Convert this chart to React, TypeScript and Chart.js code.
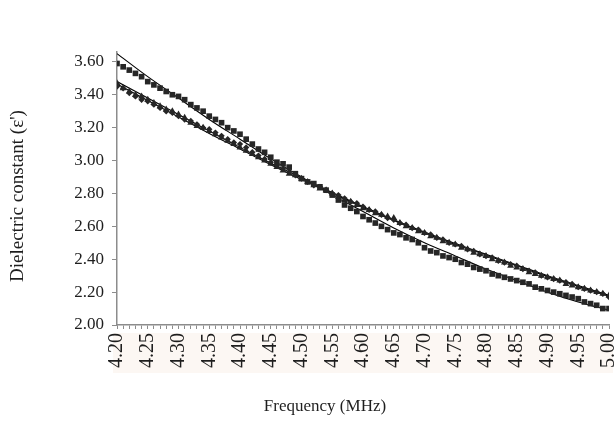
import React, { useEffect, useRef } from "react";
import { Chart, registerables } from "chart.js";

Chart.register(...registerables);

const frequency: number[] = [
  4.2, 4.21, 4.22, 4.23, 4.24, 4.25, 4.26, 4.27, 4.28, 4.29,
  4.3, 4.31, 4.32, 4.33, 4.34, 4.35, 4.36, 4.37, 4.38, 4.39,
  4.4, 4.41, 4.42, 4.43, 4.44, 4.45, 4.46, 4.47, 4.48, 4.49,
  4.5, 4.51, 4.52, 4.53, 4.54, 4.55, 4.56, 4.57, 4.58, 4.59,
  4.6, 4.61, 4.62, 4.63, 4.64, 4.65, 4.66, 4.67, 4.68, 4.69,
  4.7, 4.71, 4.72, 4.73, 4.74, 4.75, 4.76, 4.77, 4.78, 4.79,
  4.8, 4.81, 4.82, 4.83, 4.84, 4.85, 4.86, 4.87, 4.88, 4.89,
  4.9, 4.91, 4.92, 4.93, 4.94, 4.95, 4.96, 4.97, 4.98, 4.99, 5.0,
];

const squares: number[] = [
  3.59, 3.57, 3.55, 3.53, 3.51, 3.48, 3.46, 3.44, 3.42, 3.4,
  3.39, 3.37, 3.34, 3.32, 3.3, 3.27, 3.25, 3.23, 3.2, 3.18,
  3.16, 3.13, 3.1, 3.07, 3.05, 3.02, 2.99, 2.98, 2.96, 2.92,
  2.89, 2.87, 2.86, 2.84, 2.82, 2.79, 2.76, 2.73, 2.71, 2.69,
  2.66, 2.64, 2.62, 2.6, 2.58, 2.56, 2.55, 2.53, 2.52, 2.5,
  2.47, 2.45, 2.44, 2.42, 2.41, 2.4, 2.38, 2.37, 2.35, 2.34,
  2.33, 2.31, 2.3, 2.29, 2.28, 2.27, 2.26, 2.25, 2.23, 2.22,
  2.21, 2.2, 2.19, 2.18, 2.17, 2.16, 2.14, 2.13, 2.12, 2.1, 2.1,
];

const triangles: number[] = [
  3.47, 3.44, 3.42, 3.4, 3.39, 3.37, 3.35, 3.33, 3.31, 3.3,
  3.28, 3.26, 3.23, 3.21, 3.2, 3.18, 3.16, 3.14, 3.12, 3.1,
  3.08, 3.06, 3.04, 3.02, 3.0, 2.98, 2.96, 2.94, 2.92, 2.91,
  2.89, 2.87, 2.85, 2.83, 2.82, 2.8, 2.78, 2.76, 2.75, 2.73,
  2.71, 2.7, 2.68, 2.67, 2.66, 2.65, 2.62, 2.6, 2.59, 2.57,
  2.56, 2.54, 2.53, 2.51, 2.5, 2.49, 2.47, 2.46, 2.44, 2.43,
  2.42, 2.4, 2.39, 2.38, 2.36, 2.35, 2.34, 2.32, 2.31, 2.3,
  2.29, 2.28, 2.27, 2.25, 2.24, 2.23, 2.22, 2.21, 2.2, 2.19, 2.18,
];

const diamonds: number[] = [
  3.45, 3.44, 3.41, 3.39, 3.37, 3.36, 3.34, 3.32, 3.3, 3.29,
  3.27, 3.25, 3.24, 3.22, 3.2, 3.19, 3.17, 3.15, 3.13, 3.11,
  3.1, 3.08, 3.05, 3.03, 3.01, 2.99, 2.97, 2.95, 2.93, 2.91,
  2.89, 2.87, 2.85, 2.84, 2.82, 2.8, 2.79, 2.77, 2.75, 2.74,
  2.72, 2.7, 2.69, 2.67, 2.65, 2.64, 2.62, 2.61, 2.59, 2.58,
  2.56, 2.55, 2.53, 2.52, 2.5, 2.49, 2.48, 2.46, 2.45, 2.43,
  2.42, 2.41, 2.39, 2.38, 2.37, 2.36, 2.34, 2.33, 2.32, 2.3,
  2.29, 2.28, 2.27, 2.26, 2.25, 2.23, 2.22, 2.21, 2.2, 2.19, 2.17,
];

const fitX: number[] = [4.2, 4.25, 4.3, 4.35, 4.4, 4.45, 4.5, 4.55, 4.6, 4.65, 4.7, 4.75, 4.8, 4.85, 4.9, 4.95, 5.0];
const squareFit: number[] = [3.65, 3.51, 3.38, 3.25, 3.13, 3.01, 2.9, 2.79, 2.69, 2.59, 2.5, 2.42, 2.34, 2.27, 2.2, 2.14, 2.09];
const triangleFit: number[] = [3.48, 3.38, 3.28, 3.18, 3.08, 2.985, 2.895, 2.805, 2.72, 2.64, 2.565, 2.495, 2.43, 2.365, 2.3, 2.24, 2.18];
const diamondFit: number[] = [3.465, 3.365, 3.265, 3.165, 3.07, 2.975, 2.885, 2.8, 2.715, 2.635, 2.56, 2.49, 2.425, 2.36, 2.295, 2.235, 2.175];

const yTicks: number[] = [2.0, 2.2, 2.4, 2.6, 2.8, 3.0, 3.2, 3.4, 3.6];

const xTitle = "Frequency (MHz)";
const yTitle = "Dielectric constant (ε')";

const FONT = "'Liberation Serif', 'Times New Roman', serif";
const AXIS = "#8c8c8c";
const MARK = "#262626";
const TEXT = "#1e1e1e";

const pts = (xs: number[], ys: number[]) => xs.map((x, i) => ({ x, y: ys[i] }));

const decorPlugin = {
  id: "decor",
  beforeDraw(chart: any) {
    const { ctx, scales } = chart;
    const x = scales.x;
    ctx.save();
    ctx.fillStyle = "#fcf7f3";
    ctx.fillRect(x.left - 4, x.top + 8, x.right - x.left + 8, 40);
    ctx.restore();
  },
  afterDraw(chart: any) {
    const { ctx } = chart;
    ctx.save();
    ctx.fillStyle = TEXT;
    ctx.font = `17px ${FONT}`;
    ctx.textAlign = "center";
    ctx.textBaseline = "middle";
    ctx.fillText(xTitle, 325, 407);
    ctx.translate(18, 196);
    ctx.rotate(-Math.PI / 2);
    ctx.font = `19px ${FONT}`;
    ctx.fillText(yTitle, 0, 0);
    ctx.restore();
  },
};

export default function App() {
  const ref = useRef<HTMLCanvasElement | null>(null);
  useEffect(() => {
    document.body.style.margin = "0";
    if (!ref.current) return;
    const markerDs = (label: string, data: number[], style: string, r: number) => ({
      type: "scatter" as const,
      label,
      data: pts(frequency, data),
      pointStyle: style,
      pointRadius: r,
      pointBackgroundColor: MARK,
      pointBorderColor: MARK,
      pointBorderWidth: 0,
      showLine: false,
    });
    const fitDs = (label: string, data: number[]) => ({
      type: "line" as const,
      label,
      data: pts(fitX, data),
      borderColor: "#000",
      borderWidth: 1.1,
      pointRadius: 0,
      cubicInterpolationMode: "monotone" as const,
      fill: false,
    });
    const chart = new Chart(ref.current, {
      type: "scatter",
      data: {
        datasets: [
          markerDs("Squares", squares, "rect", 4),
          markerDs("Diamonds", diamonds, "rectRot", 3.2),
          markerDs("Triangles", triangles, "triangle", 4),
          fitDs("Square fit", squareFit),
          fitDs("Triangle fit", triangleFit),
          fitDs("Diamond fit", diamondFit),
        ] as any,
      },
      plugins: [decorPlugin],
      options: {
        animation: false,
        responsive: false,
        maintainAspectRatio: false,
        layout: { padding: { top: 52, right: 7, left: 0, bottom: 0 } },
        plugins: { legend: { display: false }, tooltip: { enabled: false } },
        scales: {
          x: {
            type: "linear",
            min: 4.2,
            max: 5.0,
            afterBuildTicks: (s: any) => {
              s.ticks = frequency.map((v) => ({ value: v }));
            },
            afterFit: (s: any) => {
              s.height = 119;
              s.paddingLeft = 0;
              s.paddingRight = 0;
            },
            border: { display: true, color: AXIS, width: 1.5 },
            grid: { display: true, drawOnChartArea: false, drawTicks: true, tickLength: 4, color: AXIS, lineWidth: 1 },
            ticks: {
              autoSkip: false,
              minRotation: 90,
              maxRotation: 90,
              padding: 4,
              color: TEXT,
              font: { family: FONT, size: 20 },
              callback: (_v: any, i: number) => (i % 5 === 0 ? frequency[i].toFixed(2) : ""),
            },
            title: { display: false },
          },
          y: {
            type: "linear",
            min: 2.0,
            max: 3.66,
            afterBuildTicks: (s: any) => {
              s.ticks = yTicks.map((v) => ({ value: v }));
            },
            afterFit: (s: any) => {
              s.width = 117;
              s.paddingTop = 0;
              s.paddingBottom = 0;
            },
            border: { display: true, color: AXIS, width: 1.5 },
            grid: { display: true, drawOnChartArea: false, drawTicks: true, tickLength: 5, color: AXIS, lineWidth: 1 },
            ticks: {
              padding: 8,
              color: TEXT,
              font: { family: FONT, size: 17 },
              callback: (v: any) => Number(v).toFixed(2),
            },
            title: { display: false },
          },
        },
      },
    });
    return () => chart.destroy();
  }, []);
  return (
    <div style={{ width: 616, height: 444 }}>
      <canvas ref={ref} width={616} height={444} style={{ display: "block" }} />
    </div>
  );
}
